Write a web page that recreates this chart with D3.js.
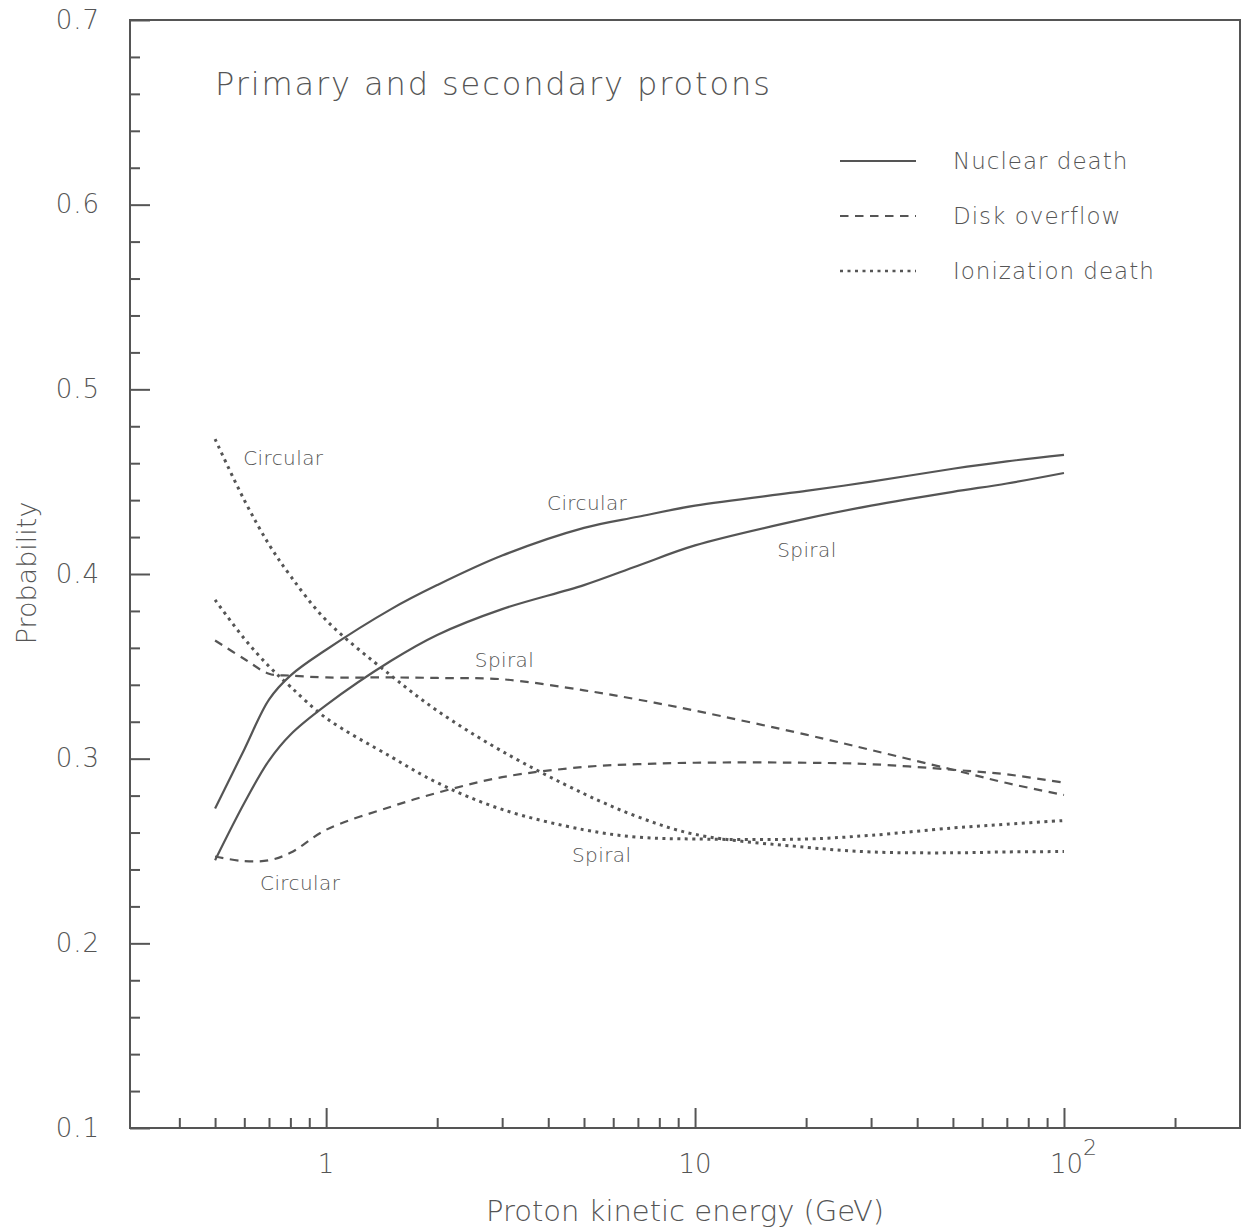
<!DOCTYPE html>
<html>
<head>
<meta charset="utf-8">
<script src="https://cdn.jsdelivr.net/npm/d3@7"></script>
<style>
  body { margin: 0; background: #fff; }
  svg text { font-family: "DejaVu Sans", sans-serif; font-weight: 200; fill: #555; }
</style>
</head>
<body>
<svg id="chart" width="1242" height="1229"></svg>
<script>
// energies (GeV) where the curves were read
const energy = [0.5, 0.6, 0.7, 0.8, 1, 1.5, 2, 3, 5, 7, 10, 20, 30, 50, 70, 100];

// nuclear death
const nuclearCircular = [0.273, 0.305, 0.332, 0.345, 0.359, 0.381, 0.394, 0.410, 0.425, 0.431, 0.437, 0.445, 0.450, 0.457, 0.461, 0.4645];
const nuclearSpiral   = [0.245, 0.276, 0.299, 0.313, 0.329, 0.353, 0.367, 0.381, 0.394, 0.4045, 0.4155, 0.430, 0.437, 0.4445, 0.449, 0.4547];
// disk overflow
const diskSpiral      = [0.364, 0.354, 0.346, 0.345, 0.344, 0.344, 0.3437, 0.343, 0.337, 0.332, 0.326, 0.313, 0.3047, 0.294, 0.2868, 0.2803];
const diskCircular    = [0.247, 0.2445, 0.245, 0.249, 0.2615, 0.274, 0.2815, 0.290, 0.2955, 0.297, 0.2978, 0.2978, 0.297, 0.294, 0.2915, 0.287];
// ionization death
const ionCircular     = [0.473, 0.440, 0.416, 0.399, 0.375, 0.345, 0.326, 0.304, 0.281, 0.2685, 0.259, 0.252, 0.2495, 0.249, 0.2495, 0.2497];
const ionSpiral       = [0.386, 0.365, 0.350, 0.339, 0.322, 0.301, 0.287, 0.2725, 0.2615, 0.2575, 0.2565, 0.2565, 0.2585, 0.2625, 0.2645, 0.2665];

const yMajor = [0.1, 0.2, 0.3, 0.4, 0.5, 0.6, 0.7];
const yMinor = d3.range(0.12, 0.7, 0.02).filter(v => Math.abs(v * 10 - Math.round(v * 10)) > 0.01);
const xMajor = [1, 10, 100];
const xMinor = [0.4, 0.5, 0.6, 0.7, 0.8, 0.9, 2, 3, 4, 5, 6, 7, 8, 9, 20, 30, 40, 50, 60, 70, 80, 90, 200];

const DASH = "8.5,6.5";
const DOT = "3,4.5";

const legendItems = [
  { name: "Nuclear death", dash: null },
  { name: "Disk overflow", dash: DASH },
  { name: "Ionization death", dash: DOT }
];

// curve labels (energy, probability at text baseline)
const curveLabels = [
  { text: "Circular", e: 0.596, p: 0.459 },
  { text: "Circular", e: 3.97,  p: 0.4347 },
  { text: "Spiral",   e: 16.7,  p: 0.4092 },
  { text: "Spiral",   e: 2.53,  p: 0.3497 },
  { text: "Spiral",   e: 4.64,  p: 0.244 },
  { text: "Circular", e: 0.662, p: 0.2289 }
];

const series = [
  { vals: nuclearCircular, dash: null },
  { vals: nuclearSpiral, dash: null },
  { vals: diskSpiral, dash: DASH },
  { vals: diskCircular, dash: DASH },
  { vals: ionCircular, dash: DOT },
  { vals: ionSpiral, dash: DOT }
];

const svg = d3.select("#chart");
const mLeft = 130, mRight = 1240, mTop = 20, mBottom = 1128;
const ink = "#555";

const x = d3.scaleLog().domain([0.294, 300]).range([mLeft, mRight]);
const y = d3.scaleLinear().domain([0.1, 0.7]).range([mBottom, mTop]);

// frame
svg.append("rect")
  .attr("x", mLeft).attr("y", mTop)
  .attr("width", mRight - mLeft).attr("height", mBottom - mTop)
  .attr("fill", "none").attr("stroke", ink).attr("stroke-width", 2);

// y axis
const yAxMaj = svg.append("g").attr("transform", `translate(${mLeft},0)`)
  .call(d3.axisLeft(y).tickValues(yMajor).tickSizeInner(-20).tickSizeOuter(0).tickPadding(30).tickFormat(d3.format(".1f")));
const yAxMin = svg.append("g").attr("transform", `translate(${mLeft},0)`)
  .call(d3.axisLeft(y).tickValues(yMinor).tickSizeInner(-10).tickSizeOuter(0).tickFormat(""));

// x axis
const xAxMaj = svg.append("g").attr("transform", `translate(0,${mBottom})`)
  .call(d3.axisBottom(x).tickValues(xMajor).tickSizeInner(-20).tickSizeOuter(0).tickFormat(""));
const xAxMin = svg.append("g").attr("transform", `translate(0,${mBottom})`)
  .call(d3.axisBottom(x).tickValues(xMinor).tickSizeInner(-10).tickSizeOuter(0).tickFormat(""));

[yAxMaj, yAxMin, xAxMaj, xAxMin].forEach(g => {
  g.select(".domain").remove();
  g.selectAll(".tick line").attr("stroke", ink).attr("stroke-width", 2);
});
yAxMaj.selectAll(".tick text")
  .attr("font-size", 26).attr("font-family", "DejaVu Sans").attr("fill", ink)
  .attr("letter-spacing", 1);

// x labels 1, 10, 10^2
const xl = svg.append("g").attr("font-size", 26);
xl.append("text").attr("x", x(1)).attr("y", mBottom + 45).attr("text-anchor", "middle").text("1");
xl.append("text").attr("x", x(10)).attr("y", mBottom + 45).attr("text-anchor", "middle").text("10");
const t100 = xl.append("text").attr("x", x(100) - 14).attr("y", mBottom + 45);
t100.append("tspan").text("10");
t100.append("tspan").attr("dy", -18).attr("font-size", 22).text("2");

// axis titles
svg.append("text").attr("x", 685).attr("y", 1221).attr("text-anchor", "middle")
  .attr("font-size", 29).text("Proton kinetic energy (GeV)");
svg.append("text").attr("transform", "translate(36,573) rotate(-90)").attr("text-anchor", "middle")
  .attr("font-size", 27).text("Probability");

// title
svg.append("text").attr("x", 215).attr("y", 95).attr("font-size", 32)
  .attr("letter-spacing", 1.9)
  .text("Primary and secondary protons");

// legend
const leg = svg.append("g");
legendItems.forEach((d, i) => {
  const ly = 161 + i * 55;
  leg.append("line").attr("x1", 840).attr("x2", 916).attr("y1", ly).attr("y2", ly)
    .attr("stroke", ink).attr("stroke-width", d.dash === DOT ? 2.6 : 2)
    .attr("stroke-dasharray", d.dash);
  leg.append("text").attr("x", 953).attr("y", ly + 8).attr("font-size", 23)
    .attr("letter-spacing", 1).text(d.name);
});

// curves
const line = d3.line()
  .x((d, i) => x(energy[i]))
  .y(d => y(d))
  .curve(d3.curveCatmullRom.alpha(0.5));

svg.append("g").selectAll("path").data(series).join("path")
  .attr("d", d => line(d.vals))
  .attr("fill", "none")
  .attr("stroke", ink)
  .attr("stroke-width", d => d.dash === DOT ? 3 : 2.2)
  .attr("stroke-dasharray", d => d.dash);

// curve labels
svg.append("g").selectAll("text").data(curveLabels).join("text")
  .attr("x", d => x(d.e)).attr("y", d => y(d.p))
  .attr("font-size", 20).attr("letter-spacing", 0.4)
  .text(d => d.text);
</script>
</body>
</html>
